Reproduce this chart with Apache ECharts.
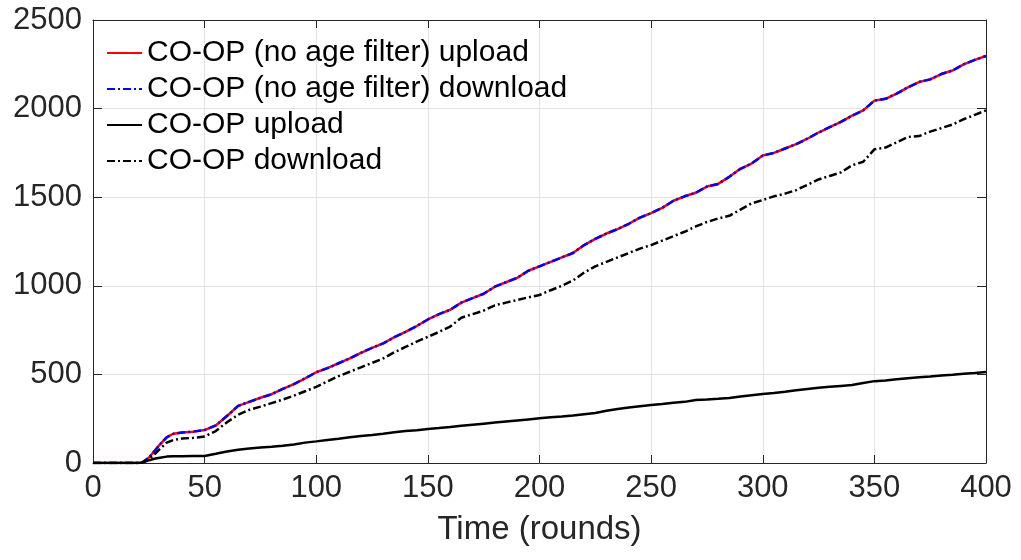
<!DOCTYPE html>
<html>
<head>
<meta charset="utf-8">
<script src="https://cdn.jsdelivr.net/npm/echarts@6/dist/echarts.min.js"></script>
<style>
html,body{margin:0;padding:0;background:#fff;}
#chart{width:1021px;height:560px;}
</style>
</head>
<body>
<div id="chart"></div>
<script>
var rounds = [0,5,10,15,20,22,25,28,30,33,36,
  40,45,50,55,60,65,70,75,80,85,90,95,100,105,110,115,120,125,130,135,140,145,150,155,160,165,170,175,180,185,190,195,200,
  205,210,215,220,225,230,235,240,245,250,255,260,265,270,275,280,285,290,295,300,
  305,310,315,320,325,330,335,340,345,350,355,360,365,370,375,380,385,390,395,400];

var noAgeUpload = [0,0,0,0,0,3,30,75,105,145,165,
  172,177,186,212,265,322,345,368,388,418,445,478,512,535,563,590,622,650,675,710,740,773,810,840,865,905,930,955,995,1020,1045,1085,1110,
  1135,1160,1185,1230,1265,1295,1320,1350,1385,1410,1440,1480,1505,1525,1560,1575,1615,1660,1690,1735,
  1750,1775,1800,1830,1865,1895,1925,1960,1990,2045,2055,2085,2120,2150,2165,2195,2215,2250,2275,2297];

var noAgeDownload = [0,0,0,0,0,3,30,75,105,145,165,
  172,177,186,212,265,322,345,368,388,418,445,478,512,535,563,590,622,650,675,710,740,773,810,840,865,905,930,955,995,1020,1045,1085,1110,
  1135,1160,1185,1230,1265,1295,1320,1350,1385,1410,1440,1480,1505,1525,1560,1575,1615,1660,1690,1735,
  1750,1775,1800,1830,1865,1895,1925,1960,1990,2045,2055,2085,2120,2150,2165,2195,2215,2250,2275,2297];

var coopUpload = [0,0,0,0,0,2,15,25,30,36,38,
  38,39,40,52,65,75,82,88,92,97,105,115,122,130,137,145,152,158,165,173,180,185,192,197,203,210,216,222,228,234,240,246,252,
  258,262,268,275,282,295,305,313,320,327,333,340,345,355,358,362,367,375,382,389,
  395,402,410,418,425,430,435,440,452,462,466,472,478,484,488,494,498,503,508,514];

var coopDownload = [0,0,0,0,0,2,20,55,80,115,130,
  138,142,150,180,230,272,300,318,338,358,380,405,430,460,490,515,540,565,590,625,655,685,712,740,770,820,840,860,890,905,920,935,948,
  975,1000,1030,1075,1110,1135,1160,1185,1210,1230,1255,1280,1305,1335,1360,1380,1395,1430,1465,1484,
  1505,1520,1540,1570,1600,1620,1640,1680,1700,1770,1780,1810,1840,1845,1870,1890,1910,1940,1965,1990];

var seriesNames = ['CO-OP (no age filter) upload','CO-OP (no age filter) download','CO-OP upload','CO-OP download'];
var xTicks = [0,50,100,150,200,250,300,350,400];
var yTicks = [0,500,1000,1500,2000,2500];

function pts(vals){ return rounds.map(function(r,i){ return [r, vals[i]]; }); }

var FONT = '"Liberation Sans", Arial, Helvetica, sans-serif';
var INK = '#262626';
var chart = echarts.init(document.getElementById('chart'), null, {renderer:'canvas'});

var xBase = {type:'value', min:xTicks[0], max:xTicks[xTicks.length-1], interval:50};
var yBase = {type:'value', min:yTicks[0], max:yTicks[yTicks.length-1], interval:500};
function plain(v){ return String(v); }

chart.setOption({
  animation:false,
  backgroundColor:'#fff',
  grid:{left:93, right:35, top:20, bottom:97, containLabel:false},
  legend:{
    show:true, orient:'vertical', left:106, top:38, padding:0,
    itemWidth:35, itemHeight:14, itemGap:6,
    itemStyle:{opacity:0},
    textStyle:{fontFamily:FONT, fontSize:30, color:'#000', lineHeight:30},
    data:seriesNames
  },
  xAxis:[
    Object.assign({}, xBase, {
      position:'bottom',
      name:'Time (rounds)', nameLocation:'middle', nameGap:50,
      nameTextStyle:{fontFamily:FONT, fontSize:33, color:INK},
      axisLine:{show:true, onZero:false, lineStyle:{color:INK, width:1}},
      axisTick:{show:true, inside:true, length:8, lineStyle:{color:INK}},
      axisLabel:{show:true, margin:10, fontFamily:FONT, fontSize:31, color:INK, formatter:plain},
      splitLine:{show:true, lineStyle:{color:'#e3e3e3', width:1}}
    }),
    Object.assign({}, xBase, {
      position:'top',
      axisLine:{show:true, onZero:false, lineStyle:{color:INK, width:1}},
      axisTick:{show:true, inside:true, length:8, lineStyle:{color:INK}},
      axisLabel:{show:false},
      splitLine:{show:false}
    })
  ],
  yAxis:[
    Object.assign({}, yBase, {
      position:'left',
      axisLine:{show:true, onZero:false, lineStyle:{color:INK, width:1}},
      axisTick:{show:true, inside:true, length:9, lineStyle:{color:INK}},
      axisLabel:{show:true, margin:11, fontFamily:FONT, fontSize:31, color:INK, formatter:plain},
      splitLine:{show:true, lineStyle:{color:'#e3e3e3', width:1}}
    }),
    Object.assign({}, yBase, {
      position:'right',
      axisLine:{show:true, onZero:false, lineStyle:{color:INK, width:1}},
      axisTick:{show:true, inside:true, length:9, lineStyle:{color:INK}},
      axisLabel:{show:false},
      splitLine:{show:false}
    })
  ],
  series:[
    {name:seriesNames[0], type:'line', data:pts(noAgeUpload), symbol:'none', showSymbol:false,
      lineStyle:{color:'#ff0000', width:2.5, type:'solid'}, itemStyle:{color:'#ff0000'}, z:2},
    {name:seriesNames[1], type:'line', data:pts(noAgeDownload), symbol:'none', showSymbol:false,
      lineStyle:{color:'#0000ff', width:2.5, type:[8,3,2,3]}, itemStyle:{color:'#0000ff'}, z:3},
    {name:seriesNames[2], type:'line', data:pts(coopUpload), symbol:'none', showSymbol:false,
      lineStyle:{color:'#000000', width:2.5, type:'solid'}, itemStyle:{color:'#000000'}, z:4},
    {name:seriesNames[3], type:'line', data:pts(coopDownload), symbol:'none', showSymbol:false,
      lineStyle:{color:'#000000', width:2.5, type:[8,3,2,3]}, itemStyle:{color:'#000000'}, z:5}
  ]
});
</script>
</body>
</html>
